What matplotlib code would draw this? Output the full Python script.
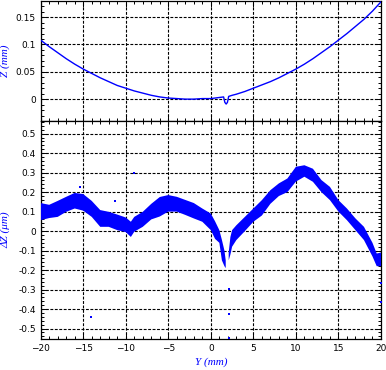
"""Z profile and residual dZ along Y, two stacked panels."""
import matplotlib
matplotlib.use("Agg")
import matplotlib.pyplot as plt
from matplotlib.ticker import MultipleLocator
import numpy as np

# ── Data ──────────────────────────────────────────────────────────────────────
# top panel: measured Z (mm) along Y (mm)
y_profile = [-20, -19, -18, -17, -16, -15, -14, -13, -12, -11, -10, -9, -8, -7,
             -6, -5, -4, -3, -2, -1, 0, 1, 1.5, 1.65, 1.8, 1.95, 2.1, 2.5, 3,
             4, 5, 6, 7, 8, 9, 10, 11, 12, 13, 14, 15, 16, 17, 18, 19, 20]
z_profile = [0.108, 0.096, 0.085, 0.074, 0.064, 0.055, 0.047, 0.039, 0.032,
             0.025, 0.020, 0.015, 0.011, 0.007, 0.004, 0.002, 0.001, 0.000,
             0.000, 0.001, 0.001, 0.003, 0.004, -0.006, -0.009, -0.006, 0.005,
             0.007, 0.009, 0.014, 0.020, 0.026, 0.032, 0.039, 0.047, 0.055,
             0.064, 0.074, 0.085, 0.096, 0.108, 0.120, 0.133, 0.146, 0.161,
             0.178]

# bottom panel: scatter band of dZ (um), lower / upper envelope along Y
y_band = [-20, -19, -18, -17, -16, -15, -14, -13, -12, -11, -10, -9.4, -9, -8,
          -7, -6, -5, -4, -3, -2, -1, 0, 0.5, 1, 1.3, 1.6, 1.75, 1.9, 2.1,
          2.3, 2.5, 3, 4, 5, 6, 7, 8, 9, 10, 11, 12, 13, 14, 15, 16, 17, 18,
          19, 19.5, 20]
dz_low = [0.056, 0.067, 0.073, 0.099, 0.116, 0.105, 0.073, 0.022, 0.022,
          0.005, -0.005, -0.030, -0.003, 0.022, 0.060, 0.075, 0.100, 0.100,
          0.083, 0.065, 0.048, 0.005, -0.040, -0.060, -0.150, -0.180, -0.190,
          np.nan, -0.150, -0.120, -0.080, -0.046, 0.000, 0.048, 0.080, 0.140,
          0.180, 0.200, 0.254, 0.279, 0.253, 0.200, 0.159, 0.100, 0.056,
          0.005, -0.046, -0.130, -0.180, -0.180]
dz_high = [0.144, 0.135, 0.155, 0.176, 0.196, 0.190, 0.155, 0.108, 0.099,
           0.085, 0.070, 0.048, 0.073, 0.099, 0.140, 0.175, 0.185, 0.176,
           0.160, 0.144, 0.116, 0.090, 0.050, 0.005, -0.045, -0.100, -0.150,
           np.nan, -0.110, -0.030, 0.005, 0.030, 0.073, 0.116, 0.159, 0.210,
           0.245, 0.270, 0.330, 0.338, 0.320, 0.262, 0.227, 0.159, 0.116,
           0.065, 0.022, -0.060, -0.115, -0.110]

# isolated points outside the band
y_outlier = [-15.4, -11.3, -9.0, -14.1, 2.14, 2.14, 2.14, 19.95, 19.95]
dz_outlier = [0.227, 0.154, 0.300, -0.443, -0.297, -0.426, -0.550, -0.265,
              -0.363]

# ── Style ─────────────────────────────────────────────────────────────────────
BLUE = "#0000FF"
GRID = dict(color="black", linestyle=(0, (2.6, 1.4)), linewidth=0.8)
LABEL_FONT = dict(family="Liberation Serif", style="italic", fontsize=8,
                  color=BLUE)


def _style_axis(ax):
    ax.tick_params(which="both", direction="in", top=True, right=True,
                   labelsize=6.5, width=0.7)
    ax.tick_params(which="major", length=4)
    ax.tick_params(which="minor", length=2.5)
    ax.xaxis.set_major_locator(MultipleLocator(5))
    ax.xaxis.set_minor_locator(MultipleLocator(1))
    ax.grid(True, which="major", **GRID)
    ax.set_axisbelow(False)
    for sp in ax.spines.values():
        sp.set_linewidth(0.9)


fig = plt.figure(figsize=(3.86, 3.70), dpi=100)
ax_top = fig.add_axes([0.1054, 0.673, 0.8816, 0.325])
ax_bot = fig.add_axes([0.1054, 0.083, 0.8816, 0.590], sharex=ax_top)

# ── Top: Z profile ────────────────────────────────────────────────────────────
ax_top.plot(y_profile, z_profile, color=BLUE, lw=1.0, zorder=3)
ax_top.set_xlim(-20, 20)
ax_top.set_ylim(-0.04, 0.18)
ax_top.yaxis.set_major_locator(MultipleLocator(0.05))
ax_top.yaxis.set_minor_locator(MultipleLocator(0.01))
ax_top.set_yticks([0, 0.05, 0.1, 0.15])
ax_top.set_yticklabels(["0", "0.05", "0.1", "0.15"])
_style_axis(ax_top)
ax_top.tick_params(labelbottom=False)
ax_top.set_ylabel("Z (mm)", **LABEL_FONT)
ax_top.yaxis.set_label_coords(-0.09, 0.5)

# ── Bottom: residuals ─────────────────────────────────────────────────────────
ax_bot.fill_between(y_band, dz_low, dz_high, color=BLUE, lw=0, zorder=3)
ax_bot.scatter(y_outlier, dz_outlier, s=1.5, marker="s", color=BLUE,
               lw=0, zorder=3)
ax_bot.set_ylim(-0.555, 0.565)
ax_bot.yaxis.set_major_locator(MultipleLocator(0.1))
ax_bot.yaxis.set_minor_locator(MultipleLocator(0.02))
ticks = [-0.5, -0.4, -0.3, -0.2, -0.1, 0, 0.1, 0.2, 0.3, 0.4, 0.5]
ax_bot.set_yticks(ticks)
ax_bot.set_yticklabels([f"{t:g}" for t in ticks])
_style_axis(ax_bot)
ax_bot.set_xticks([-20, -15, -10, -5, 0, 5, 10, 15, 20])
ax_bot.set_ylabel("ΔZ (μm)", **LABEL_FONT)
ax_bot.yaxis.set_label_coords(-0.09, 0.5)
ax_bot.set_xlabel("Y (mm)", labelpad=3, **LABEL_FONT)

fig.savefig("out.png", dpi=100, facecolor="white")
